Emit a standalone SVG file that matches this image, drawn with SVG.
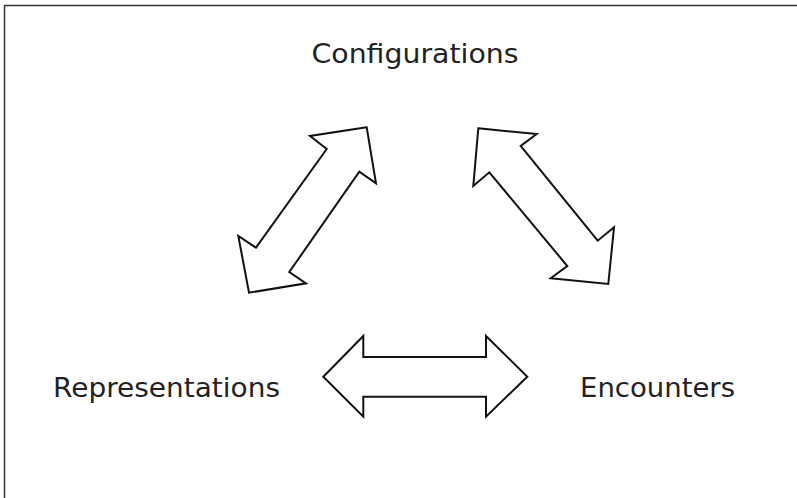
<svg xmlns="http://www.w3.org/2000/svg" width="797" height="498" viewBox="0 0 797 498">
<style>
.lbl{font-family:"DejaVu Sans","Liberation Sans",sans-serif;font-size:26px;fill:#222;}
.arr{fill:#fff;stroke:#111;stroke-width:2;stroke-linejoin:miter;}
.frame{fill:none;stroke:#333;stroke-width:1.5;}
</style>
<rect width="797" height="498" fill="#fff"/>
<path class="frame" d="M4.5,498 V5.5 H797"/>
<g id="configurations"><text class="lbl" x="311.5" y="63" textLength="207" lengthAdjust="spacingAndGlyphs">Configurations</text></g>
<g id="representations"><text class="lbl" x="53" y="397" textLength="227" lengthAdjust="spacingAndGlyphs">Representations</text></g>
<g id="encounters"><text class="lbl" x="580" y="397" textLength="155" lengthAdjust="spacingAndGlyphs">Encounters</text></g>
<g id="connectors">
<polygon class="arr" points="366.7,127.3 310,136 326.7,149 256,247.7 238.3,236 249,292.7 306,283.3 289.3,272 359.3,171.7 376,183.3"/>
<polygon class="arr" points="478.3,128.3 536.7,134 520.7,146 597.7,240.7 614,227.3 608.3,284 550.7,278.3 567.3,266 489.3,172.3 473.3,186"/>
<polygon class="arr" points="323.3,376.7 363.3,336 363.3,357 486,357 486,336 527.3,376.7 486,416.7 486,396.7 363.3,396.7 363.3,416.7"/>
</g>
</svg>
